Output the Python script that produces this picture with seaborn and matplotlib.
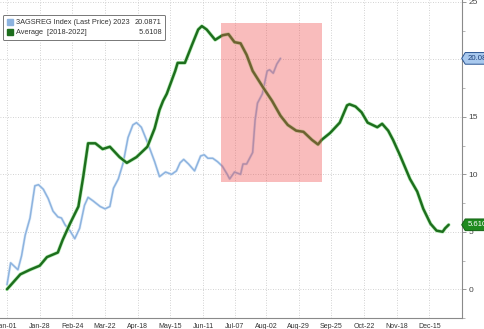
import numpy as np
import pandas as pd
import matplotlib
matplotlib.use("Agg")
import matplotlib.pyplot as plt
import matplotlib.dates as mdates
import matplotlib.transforms as mtransforms
import matplotlib.patheffects as pe
from matplotlib.lines import Line2D
from matplotlib.patches import Rectangle
from matplotlib.path import Path
import seaborn as sns

# ---------------- data ----------------
avg_days = [0, 11, 19, 27, 33, 42, 46, 52, 59, 63, 67, 73, 79, 85, 93, 99, 107, 116,
            122, 126, 129, 132, 139, 141, 147, 153, 158, 161, 165, 172, 178, 183, 188,
            193, 198, 203, 212, 219, 226, 232, 239, 245, 252, 257, 260, 267, 275, 281,
            283, 288, 293, 298, 306, 310, 315, 319, 325, 329, 333, 339, 344, 350, 355,
            360, 362, 365]
avg_values = [0.0, 1.3, 1.7, 2.05, 2.8, 3.2, 4.3, 5.7, 7.2, 9.8, 12.7, 12.7, 12.2, 12.4,
              11.5, 11.0, 11.5, 12.4, 14.0, 15.6, 16.4, 17.0, 19.0, 19.7, 19.7, 21.3,
              22.6, 22.9, 22.6, 21.7, 22.1, 22.2, 21.5, 21.4, 20.4, 19.0, 17.5, 16.4,
              15.1, 14.3, 13.8, 13.7, 13.0, 12.6, 13.0, 13.6, 14.5, 16.0, 16.1, 15.9,
              15.4, 14.5, 14.1, 14.4, 13.8, 13.0, 11.6, 10.6, 9.6, 8.5, 7.0, 5.7, 5.1,
              5.0, 5.3, 5.61]

cur_days = [0, 3, 7, 9, 12, 15, 19, 23, 26, 30, 34, 38, 42, 45, 48, 52, 56, 60, 64, 67,
            71, 77, 81, 85, 88, 92, 96, 100, 104, 107, 111, 116, 122, 126, 131, 136, 140,
            143, 146, 150, 155, 160, 163, 166, 170, 174, 178, 182, 184, 188, 193, 195,
            198, 201, 203, 205, 207, 211, 215, 217, 220, 223, 226]
cur_values = [0.4, 2.3, 1.9, 1.7, 2.9, 4.7, 6.2, 9.0, 9.1, 8.7, 7.9, 6.8, 6.3, 6.2, 5.6,
              5.1, 4.4, 5.3, 7.3, 8.0, 7.7, 7.2, 7.0, 7.2, 8.8, 9.6, 11.0, 13.2, 14.3,
              14.5, 14.1, 12.8, 11.1, 9.8, 10.2, 10.0, 10.3, 11.0, 11.3, 10.9, 10.3, 11.6,
              11.7, 11.4, 11.4, 11.1, 10.7, 10.0, 9.6, 10.2, 10.0, 10.9, 10.9, 11.5, 11.9,
              14.7, 16.2, 17.0, 19.0, 19.1, 18.8, 19.6, 20.09]

cur_label = "3AGSREG Index (Last Price) 2023"
avg_label = "Average  [2018-2022]"
cur_last = "20.0871"
avg_last = "5.6108"

tick_labels = ["Jan-01", "Jan-28", "Feb-24", "Mar-22", "Apr-18", "May-15", "Jun-11",
               "Jul-07", "Aug-02", "Aug-29", "Sep-25", "Oct-22", "Nov-18", "Dec-15"]
y_ticks = [0, 5, 10, 15, 20, 25]
y_tick_labels = ["0", "5", "10", "15", "", "25"]  # "20" sits under the value tag

highlight_start = "2024-06-26"
highlight_end = "2024-09-17"
highlight_low = 9.3
highlight_high = 23.2

base = pd.Timestamp("2024-01-01")  # leap-year calendar axis
df_avg = pd.DataFrame({"date": base + pd.to_timedelta(avg_days, unit="D"), "value": avg_values})
df_cur = pd.DataFrame({"date": base + pd.to_timedelta(cur_days, unit="D"), "value": cur_values})
tick_dates = [pd.Timestamp("2024-" + t) for t in tick_labels]

# ---------------- style ----------------
sns.set_style("white")
plt.rcParams["font.family"] = ["Liberation Sans", "DejaVu Sans"]

blue = "#8db3df"
green = "#1d6e1d"

fig = plt.figure(figsize=(4.85, 3.29), dpi=100)
ax = fig.add_axes([0, 1 - 318 / 329, 462 / 485, 318 / 329])

sns.lineplot(data=df_cur, x="date", y="value", ax=ax, color=blue, lw=1.1, zorder=2)
sns.lineplot(data=df_avg, x="date", y="value", ax=ax, color=green, lw=1.75, zorder=2.2)
lines = ax.get_lines()
lines[0].set_path_effects([pe.Stroke(linewidth=2.0, foreground="#dceaf8"), pe.Normal()])
lines[1].set_path_effects([pe.Stroke(linewidth=2.7, foreground="#b5ecb5"), pe.Normal()])

x0 = mdates.date2num(pd.Timestamp(highlight_start))
x1 = mdates.date2num(pd.Timestamp(highlight_end))
ax.add_patch(Rectangle((x0, highlight_low), x1 - x0, highlight_high - highlight_low,
                       facecolor="#f05050", alpha=0.38, edgecolor="none", zorder=3))

ax.set_xlim(mdates.date2num(base) - 5.8, mdates.date2num(base) + 376)
ax.set_ylim(-2.24, 25.17)
ax.set_xlabel("")
ax.set_ylabel("")

ax.set_xticks(mdates.date2num(tick_dates))
ax.set_xticklabels(tick_labels)
ax.yaxis.tick_right()
ax.set_yticks(y_ticks)
ax.set_yticklabels(y_tick_labels)
ax.set_yticks(np.arange(-2.5, 25.1, 2.5), minor=True)
ax.tick_params(axis="x", labelsize=5.0, length=2, width=0.6, color="#666666",
               labelcolor="#333333", pad=1.5)
ax.tick_params(axis="y", which="major", labelsize=6.0, length=3, width=0.6,
               color="#888888", labelcolor="#444444", pad=1.5, direction="out")
ax.tick_params(axis="y", which="minor", length=1.8, width=0.5, color="#999999")

for s in ["left", "top"]:
    ax.spines[s].set_visible(False)
for s in ["right", "bottom"]:
    ax.spines[s].set_color("#8a8a8a")
    ax.spines[s].set_linewidth(0.8)

ax.grid(True, which="major", color="#c4c4c4", linestyle=(0, (1, 2)), linewidth=0.6)
ax.set_axisbelow(True)

# legend
h1 = Line2D([], [], marker="s", ls="", color=blue, markersize=4.2)
h2 = Line2D([], [], marker="s", ls="", color=green, markersize=4.2)
he = Line2D([], [], ls="", marker="")
leg = ax.legend([h1, h2, he, he], [cur_label, avg_label, cur_last, "\u2007" + avg_last],
                ncol=2, loc="upper left", bbox_to_anchor=(0.0065, 0.953),
                fontsize=5.3, handlelength=0.7, handletextpad=0.5, columnspacing=-0.5,
                labelspacing=0.4, borderpad=0.55, frameon=True, fancybox=True,
                borderaxespad=0)
leg.get_frame().set_edgecolor("#777777")
leg.get_frame().set_linewidth(0.7)
leg.get_frame().set_facecolor("white")
leg.get_frame().set_alpha(1)
for t in leg.get_texts():
    t.set_color("#333333")


def tag_box(x0, y0, width, height, mutation_size):
    pad = mutation_size * 0.3
    x0 -= pad
    y0 -= pad
    width += 2 * pad
    height += 2 * pad
    tip = height * 0.3
    verts = [(x0 - tip, y0 + height / 2), (x0, y0), (x0 + width, y0),
             (x0 + width, y0 + height), (x0, y0 + height), (x0 - tip, y0 + height / 2)]
    return Path(verts, [Path.MOVETO] + [Path.LINETO] * 4 + [Path.CLOSEPOLY])


trans = mtransforms.blended_transform_factory(ax.transAxes, ax.transData)
ax.annotate(cur_last, xy=(1.0, cur_values[-1]), xycoords=trans, xytext=(4.0, 0),
            textcoords="offset points", ha="left", va="center", fontsize=5.6,
            color="#1d3f78", annotation_clip=False, zorder=6,
            bbox=dict(boxstyle=tag_box, facecolor="#a9c9ee", edgecolor="#2b5592", lw=0.7))
ax.annotate(avg_last, xy=(1.0, avg_values[-1]), xycoords=trans, xytext=(4.0, 0),
            textcoords="offset points", ha="left", va="center", fontsize=5.6,
            color="white", annotation_clip=False, zorder=6,
            bbox=dict(boxstyle=tag_box, facecolor="#1f8a1f", edgecolor="#126212", lw=0.7))

fig.savefig("out.png", dpi=100)
